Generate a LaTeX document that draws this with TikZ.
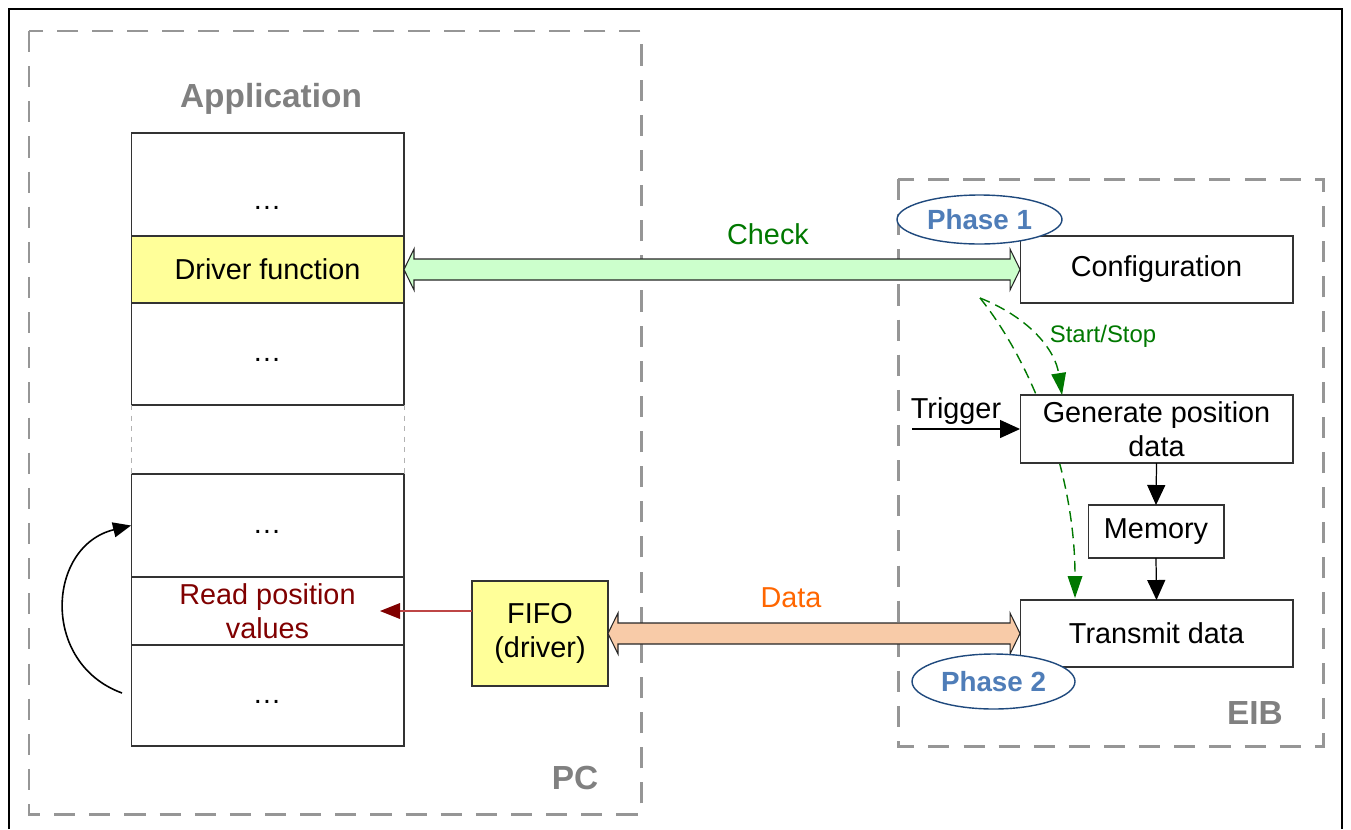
\documentclass[tikz,border=0pt]{standalone}
\usepackage{fontspec}
\setmainfont{Liberation Sans}
\usetikzlibrary{arrows.meta,shapes.geometric,calc}
\definecolor{pcgray}{RGB}{150,150,150}
\definecolor{lbgray}{RGB}{128,128,128}
\definecolor{yel}{RGB}{255,255,153}
\definecolor{lgreen}{RGB}{204,255,204}
\definecolor{peach}{RGB}{248,203,168}
\definecolor{dgreen}{RGB}{0,120,0}
\definecolor{orng}{RGB}{255,102,0}
\definecolor{dred}{RGB}{128,0,0}
\definecolor{phtext}{RGB}{79,125,184}
\definecolor{phline}{RGB}{31,73,125}
\newcommand{\fsmain}{\fontsize{16.4}{19.5}\selectfont}
\newcommand{\fsbig}{\fontsize{19}{22}\selectfont\bfseries}
\newcommand{\myfatarrow}[3]{%
  \draw[line width=0.6pt, draw=black!85, fill=#3] let \p1=(#1), \p2=(#2) in
  (\x1,\y1) -- (\x1+0.2cm,\y1+0.41cm) -- (\x1+0.2cm,\y1+0.21cm) -- (\x2-0.2cm,\y1+0.21cm)
  -- (\x2-0.2cm,\y1+0.41cm) -- (\x2,\y1) -- (\x2-0.2cm,\y1-0.41cm) -- (\x2-0.2cm,\y1-0.21cm)
  -- (\x1+0.2cm,\y1-0.21cm) -- (\x1+0.2cm,\y1-0.41cm) -- cycle;}
\tikzset{
  box/.style={draw=black!80, line width=0.6pt, fill=white, inner sep=0pt, outer sep=0pt,
    align=center, font=\fsmain},
  grpbox/.style={draw=pcgray, line width=1.7pt, dash pattern=on 12pt off 8pt},
  grplabel/.style={text=lbgray, font=\fsbig},
  dots/.style={font=\fsmain, inner sep=0pt},
  blackarrow/.style={line width=0.7pt, -{Triangle[length=0.4cm,width=0.36cm]}},
  greenarrow/.style={draw=dgreen, line width=0.8pt, dash pattern=on 6pt off 3.5pt,
    -{Triangle[length=0.44cm,width=0.3cm,fill=dgreen,line width=0pt]}},
  phase/.style={ellipse, draw=phline, line width=0.8pt, fill=white, inner sep=0pt,
    text=phtext, font=\fontsize{15.8}{18}\selectfont\bfseries},
}
\begin{document}
\begin{tikzpicture}[x=0.02cm, y=-0.02cm]
\useasboundingbox (0,0) rectangle (1351,829);
% outer frame
\draw[line width=1.3pt] (9,829) -- (9,9) -- (1342,9) -- (1342,829);
% group boxes
\draw[grpbox] (29,31) rectangle (641,814);
\draw[grpbox] (898,179) rectangle (1323,746);
\node[grplabel] (pclab) at (575,778) {PC};
\node[grplabel] (eiblab) at (1255,713) {EIB};
\node[grplabel] (applab) at (271,99) {Application};
% application stack
\node[box, minimum width=5.46cm, minimum height=2.06cm] (a1) at (267.5,184.5) {};
\node[box, fill=yel, minimum width=5.46cm, minimum height=1.34cm] (drv) at (267.5,269.5) {Driver function};
\node[box, minimum width=5.46cm, minimum height=2.04cm] (a3) at (267.5,354) {};
\node[box, minimum width=5.46cm, minimum height=2.06cm] (b1) at (267.5,525.5) {};
\node[box, text=dred, minimum width=5.46cm, minimum height=1.36cm] (rd) at (267.5,611) {Read position\\values};
\node[box, minimum width=5.46cm, minimum height=2.02cm] (b3) at (267.5,695.5) {};
\node[dots] (d1) at (267,208) {…};
\node[dots] (d2) at (267,360) {…};
\node[dots] (d3) at (267,532) {…};
\node[dots] (d4) at (267,702) {…};
\draw[black!30, line width=0.4pt, dashed] (a3.south west) -- (b1.north west);
\draw[black!30, line width=0.4pt, dashed] (a3.south east) -- (b1.north east);
% loop arrow
\coordinate (loopstart) at (122,693);
\draw[line width=0.9pt, -{Triangle[length=0.36cm,width=0.3cm]}] (loopstart) .. controls (40,663) and (47,546) .. (b1.west);
% FIFO
\node[box, fill=yel, minimum width=2.72cm, minimum height=2.1cm] (fifo) at (540,633.5) {FIFO\\(driver)};
\coordinate (rdend) at (380,611);
\draw[draw={rgb,255:red,190;green,70;blue,70}, line width=0.6pt, -{Triangle[length=0.4cm,width=0.32cm,fill=dred,line width=0pt]}] ($(fifo.west)+(0,-22.5)$) -- (rdend);
% EIB boxes
\node[box, minimum width=5.46cm, minimum height=1.34cm] (cfg) at (1156.5,269.5) {Configuration};
% green dashed curves (second passes behind gen box)
\coordinate (ss) at (980,298);
\draw[greenarrow] (ss) .. controls (1030,360) and (1075,470) .. (1075,598);
\node[box, minimum width=5.46cm, minimum height=1.36cm] (gen) at (1156.5,429) {Generate position\\data};
\node[box, minimum width=2.72cm, minimum height=1.06cm] (mem) at (1156,531.5) {Memory};
\node[box, minimum width=5.46cm, minimum height=1.34cm] (tx) at (1156.5,633.5) {Transmit data};
\draw[greenarrow] (ss) .. controls (1030,318) and (1055,350) .. ($(gen.north west)+(42,0)$);
\node[text=dgreen, font=\fontsize{13.6}{16}\selectfont] (sslab) at (1103,336) {Start/Stop};
% trigger
\coordinate (trig) at (912,429);
\node[font=\fsmain] (triglab) at (956,411) {Trigger};
\draw[blackarrow] (trig) -- (gen.west);
\draw[blackarrow] (gen.south) -- (mem.north);
\draw[blackarrow] (mem.south) -- (tx.north);
% fat arrows
\myfatarrow{drv.east}{cfg.west}{lgreen}
\myfatarrow{fifo.east}{tx.west}{peach}
\node[text=dgreen, font=\fsmain] (chk) at (768,234) {Check};
\node[text=orng, font=\fsmain] (dat) at (791,598) {Data};
% phases
\node[phase, minimum width=3.3cm, minimum height=0.98cm] (ph1) at (979.5,219.5) {Phase 1};
\node[phase, minimum width=3.26cm, minimum height=1.1cm] (ph2) at (993.5,681.5) {Phase 2};
\end{tikzpicture}
\end{document}
